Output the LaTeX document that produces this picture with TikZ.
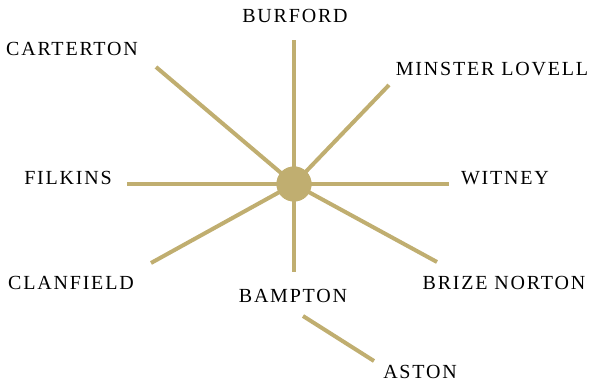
\documentclass[tikz,border=0pt]{standalone}
\usepackage{fontspec}
\setmainfont{Liberation Serif}
\definecolor{spokegold}{RGB}{192,174,112}

\tikzset{
  spoke/.style={draw=spokegold, line width=4pt},
  town/.style={font=\fontsize{20}{20}\selectfont\addfontfeatures{LetterSpace=9}, text=black, inner sep=0pt}
}

\begin{document}
\begin{tikzpicture}[x=1pt, y=-1pt]
\useasboundingbox (0,0) rectangle (594,387);

% Spoke ends
\coordinate (n)  at (294,40);
\coordinate (ne) at (389,85);
\coordinate (e)  at (449,184);
\coordinate (se) at (437,262);
\coordinate (s)  at (294,272);
\coordinate (sw) at (151,263);
\coordinate (w)  at (127,184);
\coordinate (nw) at (156,67);

% Hub
\node[circle, fill=spokegold, minimum size=35pt, inner sep=0pt] (hub) at (294,184) {};
\foreach \d in {n, ne, e, se, s, sw, w, nw} {
    \draw[spoke] (hub.center) -- (\d);
}
\node[circle, fill=spokegold, minimum size=35pt, inner sep=0pt] at (hub) {};

% Town names
\node[town] (burford)  at (295,16)  {BURFORD};
\node[town] (carterton) at (72,49)  {CARTERTON};
\node[town] (minster)  at (492,69)  {MINSTER LOVELL};
\node[town] (filkins)  at (68,178)  {FILKINS};
\node[town] (witney)   at (505,178) {WITNEY};
\node[town] (clanfield) at (71,283) {CLANFIELD};
\node[town] (bampton)  at (293,296) {BAMPTON};
\node[town] (brize)    at (504,283) {BRIZE NORTON};
\node[town] (aston)    at (420,372) {ASTON};

% Bampton to Aston
\coordinate (bfoot) at (303,316);
\coordinate (ahead) at (374,361);
\draw[spoke] (bfoot) -- (ahead);
\end{tikzpicture}
\end{document}
